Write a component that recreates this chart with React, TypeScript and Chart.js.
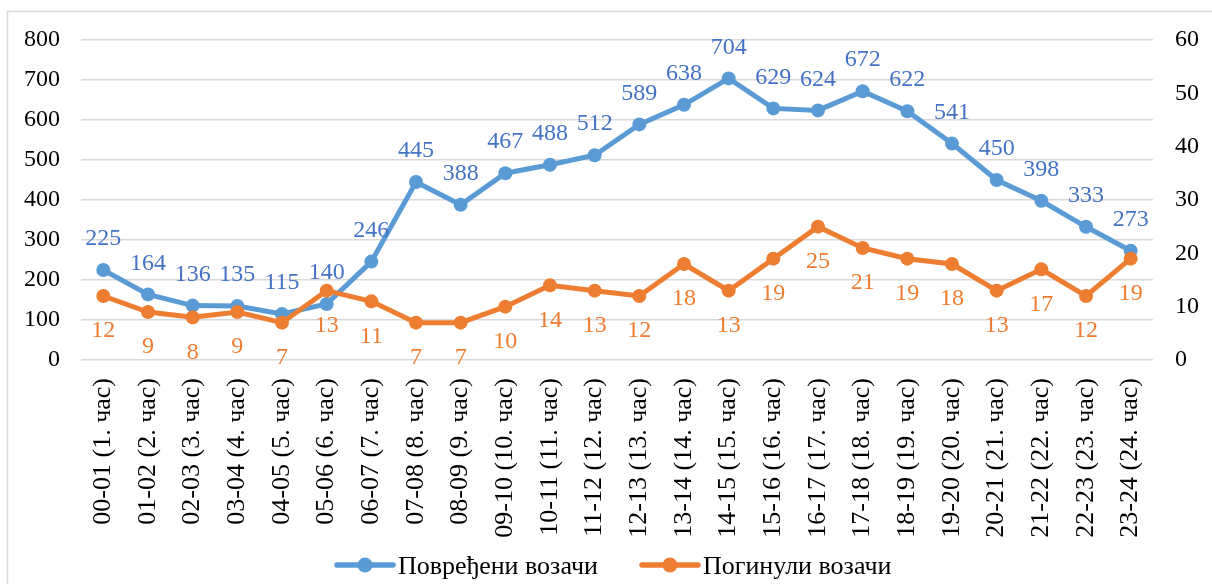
import React, { useEffect, useRef } from 'react';
import { Chart, registerables } from 'chart.js';

Chart.register(...registerables);

const categories = [
  '00-01 (1. час)', '01-02 (2. час)', '02-03 (3. час)', '03-04 (4. час)', '04-05 (5. час)', '05-06 (6. час)',
  '06-07 (7. час)', '07-08 (8. час)', '08-09 (9. час)', '09-10 (10. час)', '10-11 (11. час)', '11-12 (12. час)',
  '12-13 (13. час)', '13-14 (14. час)', '14-15 (15. час)', '15-16 (16. час)', '16-17 (17. час)', '17-18 (18. час)',
  '18-19 (19. час)', '19-20 (20. час)', '20-21 (21. час)', '21-22 (22. час)', '22-23 (23. час)', '23-24 (24. час)',
];
const injuredDrivers = [225, 164, 136, 135, 115, 140, 246, 445, 388, 467, 488, 512, 589, 638, 704, 629, 624, 672, 622, 541, 450, 398, 333, 273];
const killedDrivers = [12, 9, 8, 9, 7, 13, 11, 7, 7, 10, 14, 13, 12, 18, 13, 19, 25, 21, 19, 18, 13, 17, 12, 19];
const seriesNames = ['Повређени возачи', 'Погинули возачи'];
const leftAxis = { min: 0, max: 800, step: 100 };
const rightAxis = { min: 0, max: 60, step: 10 };

const FONT = '"Liberation Serif", "Times New Roman", "DejaVu Serif", serif';
const BLUE = '#5B9BD5';
const BLUE_LABEL = '#4472C4';
const ORANGE = '#ED7D31';

const labelsPlugin = {
  id: 'valueLabels',
  afterDatasetsDraw(chart: any) {
    const ctx = chart.ctx;
    ctx.save();
    ctx.font = `24px ${FONT}`;
    ctx.textAlign = 'center';
    ctx.textBaseline = 'middle';
    chart.data.datasets.forEach((ds: any, di: number) => {
      const meta = chart.getDatasetMeta(di);
      meta.data.forEach((pt: any, i: number) => {
        const v = ds.data[i];
        if (di === 0) {
          ctx.fillStyle = BLUE_LABEL;
          ctx.fillText(String(v), pt.x, pt.y - 31);
        } else {
          ctx.fillStyle = ORANGE;
          ctx.fillText(String(v), pt.x, pt.y + 35);
        }
      });
    });
    ctx.restore();
  },
};

const framePlugin = {
  id: 'frameLegend',
  afterDraw(chart: any) {
    const ctx = chart.ctx;
    ctx.save();
    ctx.strokeStyle = '#d9d9d9';
    ctx.lineWidth = 1.5;
    ctx.strokeRect(7.5, 11.5, 1230, 600);
    const items = [
      { x: 337, color: BLUE, text: seriesNames[0] },
      { x: 642, color: ORANGE, text: seriesNames[1] },
    ];
    const y = 565;
    ctx.font = `26px ${FONT}`;
    ctx.textBaseline = 'middle';
    ctx.textAlign = 'left';
    items.forEach((it) => {
      ctx.strokeStyle = it.color;
      ctx.lineWidth = 5.5;
      ctx.lineCap = 'round';
      ctx.beginPath();
      ctx.moveTo(it.x, y);
      ctx.lineTo(it.x + 56, y);
      ctx.stroke();
      ctx.fillStyle = it.color;
      ctx.beginPath();
      ctx.arc(it.x + 28, y, 7.5, 0, Math.PI * 2);
      ctx.fill();
      ctx.fillStyle = '#000';
      ctx.fillText(it.text, it.x + 61, y + 2);
    });
    ctx.restore();
  },
};

export default function App() {
  const ref = useRef<HTMLCanvasElement | null>(null);
  useEffect(() => {
    let chart: any = null;
    let cancelled = false;
    const build = () => {
      if (cancelled || !ref.current) return;
      chart = new Chart(ref.current, {
        type: 'line',
        data: {
          labels: categories,
          datasets: [
            {
              label: seriesNames[0],
              data: injuredDrivers,
              borderColor: BLUE,
              backgroundColor: BLUE,
              borderWidth: 5,
              pointRadius: 7,
              pointBackgroundColor: BLUE,
              pointBorderColor: BLUE,
              pointBorderWidth: 0,
              yAxisID: 'y',
              order: 1,
            },
            {
              label: seriesNames[1],
              data: killedDrivers,
              borderColor: ORANGE,
              backgroundColor: ORANGE,
              borderWidth: 5,
              pointRadius: 7,
              pointBackgroundColor: ORANGE,
              pointBorderColor: ORANGE,
              pointBorderWidth: 0,
              yAxisID: 'y1',
              order: 0,
            },
          ],
        },
        options: {
          responsive: false,
          animation: false,
          devicePixelRatio: 1,
          layout: { padding: { top: 40, left: 0, right: 0, bottom: 0 } },
          plugins: { legend: { display: false }, tooltip: { enabled: false } },
          scales: {
            x: {
              offset: true,
              grid: { display: false, drawTicks: false },
              border: { display: false },
              ticks: {
                minRotation: 90,
                maxRotation: 90,
                autoSkip: false,
                padding: 18,
                color: '#000',
                font: { family: FONT, size: 26 },
              },
              afterFit(scale: any) {
                scale.height = 224;
              },
            },
            y: {
              position: 'left',
              min: leftAxis.min,
              max: leftAxis.max,
              ticks: { stepSize: leftAxis.step, padding: 21, color: '#000', font: { family: FONT, size: 24 } },
              grid: { color: '#d9d9d9', lineWidth: 1.5, drawTicks: false },
              border: { display: false },
              afterFit(scale: any) {
                scale.width = 81;
              },
            },
            y1: {
              position: 'right',
              min: rightAxis.min,
              max: rightAxis.max,
              ticks: { stepSize: rightAxis.step, padding: 22, color: '#000', font: { family: FONT, size: 24 } },
              grid: { display: false, drawTicks: false },
              border: { display: false },
              afterFit(scale: any) {
                scale.width = 59;
              },
            },
          },
        },
        plugins: [labelsPlugin, framePlugin],
      });
    };
    const fonts: any = (document as any).fonts;
    if (fonts && fonts.load) {
      Promise.all([
        fonts.load('24px "Liberation Serif"', 'Повређени 0123456789'),
        fonts.load('24px "Times New Roman"', 'Повређени 0123456789'),
      ])
        .catch(() => undefined)
        .then(() => build());
    } else {
      build();
    }
    return () => {
      cancelled = true;
      if (chart) chart.destroy();
    };
  }, []);
  return (
    <div style={{ position: 'absolute', left: 0, top: 0, width: 1212, height: 584, background: '#fff' }}>
      <canvas ref={ref} width={1212} height={584} style={{ display: 'block' }} />
    </div>
  );
}
